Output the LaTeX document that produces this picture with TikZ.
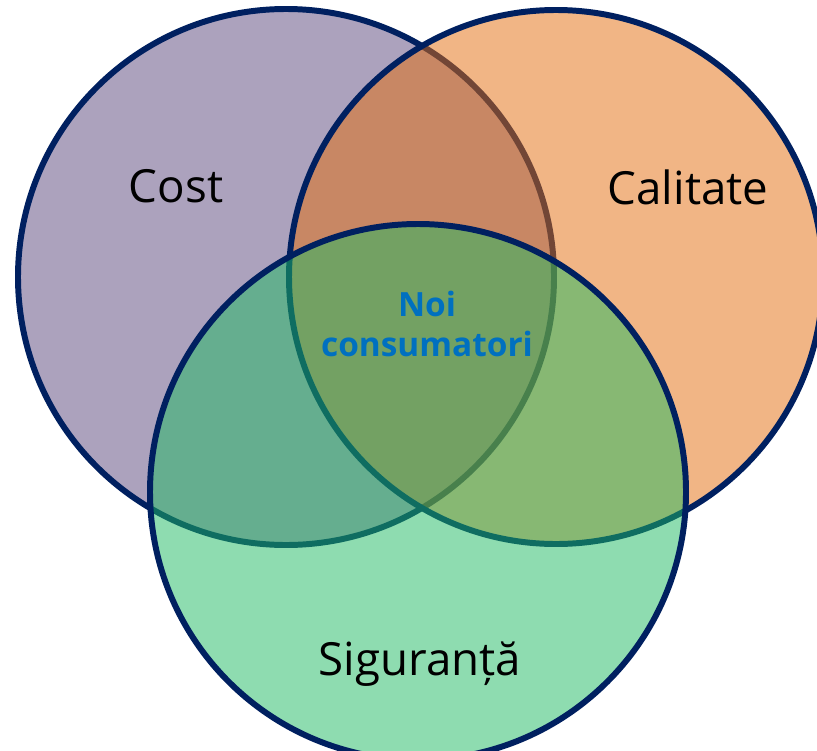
\documentclass[tikz,border=0pt]{standalone}
\usepackage{fontspec}
\setmainfont{Open Sans}
\definecolor{mnavy}{HTML}{002060}
\definecolor{mpurple}{HTML}{5B477D}
\definecolor{morange}{HTML}{E46D0D}
\definecolor{mgreen}{HTML}{1FBB63}
\definecolor{mblue}{HTML}{0070C0}
\tikzset{venn/.style = {draw=mnavy, line width=3.4pt, fill opacity=0.5}}
\tikzset{lbl/.style = {font=\fontsize{26}{31}\selectfont, inner sep=0}}

\begin{document}
\begin{tikzpicture}[x=0.02cm, y=-0.02cm]
      \useasboundingbox (0, 0) rectangle (817, 750);
      \fill [white] (0, 0) rectangle (817, 750);
      \clip (0, 0) rectangle (817, 750);

      % the three sets
      \draw [venn, fill=mpurple] (286, 277) circle [radius=268];
      \draw [venn, fill=morange] (556, 277) circle [radius=267];
      \draw [venn, fill=mgreen] (418, 492) circle [radius=268];

      \node [lbl] (cost) at (176, 186) {Cost};
      \node [lbl] (calitate) at (688, 187) {Calitate};
      \node [lbl] (siguranta) at (420, 664) {Siguranță};
      \node [font=\fontsize{19}{22.5}\selectfont\bfseries, text=mblue, align=center, inner sep=0]
            (noi) at (427, 324) {Noi\\consumatori};
\end{tikzpicture}
\end{document}
